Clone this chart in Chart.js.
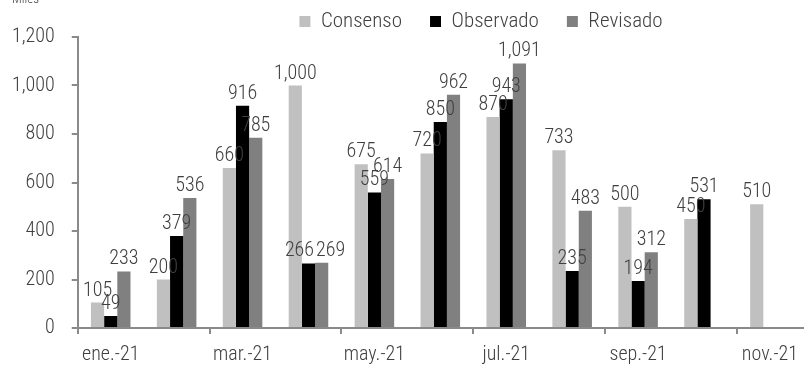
<!DOCTYPE html>
<html>
<head>
<meta charset="utf-8">
<script src="https://cdn.jsdelivr.net/npm/chart.js@4/dist/chart.umd.min.js"></script>
<style>
  html, body { margin: 0; padding: 0; background: #fff; }
  #wrap { width: 807px; height: 366px; position: relative; }
</style>
</head>
<body>
<div id="wrap"><canvas id="chart"></canvas></div>
<script>
// meses 2021
var meses = ["ene.-21", "feb.-21", "mar.-21", "abr.-21", "may.-21", "jun.-21",
             "jul.-21", "ago.-21", "sep.-21", "oct.-21", "nov.-21"];
var consenso  = [105, 200, 660, 1000, 675, 720, 870, 733, 500, 450, 510];
var observado = [49, 379, 916, 266, 559, 850, 943, 235, 194, 531, null];
var revisado  = [233, 536, 785, 269, 614, 962, 1091, 483, 312, null, null];
var yTicks = [0, 200, 400, 600, 800, 1000, 1200];

var FONT = "'Roboto Condensed', Roboto, sans-serif";
var TEXT = '#404040';
var AXIS = '#8a8a8a';

function fmt(v) { return v.toLocaleString('en-US'); }

// etiquetas de valor encima de cada barra; si dos se pisan dentro
// del mismo mes se separan un poco hacia los lados
var valueLabels = {
  id: 'valueLabels',
  afterDatasetsDraw: function(chart) {
    var ctx = chart.ctx;
    var alto = 14;
    ctx.save();
    ctx.font = '300 20px ' + FONT;
    ctx.textAlign = 'center';
    ctx.textBaseline = 'alphabetic';
    ctx.fillStyle = TEXT;
    meses.forEach(function(m, j) {
      var grupo = [];
      chart.data.datasets.forEach(function(ds, i) {
        var v = ds.data[j];
        if (v == null) return;
        var bar = chart.getDatasetMeta(i).data[j];
        var t = fmt(v);
        grupo.push({ t: t, x: bar.x, y: bar.y - 7, w: ctx.measureText(t).width });
      });
      for (var k = 0; k < grupo.length - 1; k++) {
        var a = grupo[k], b = grupo[k + 1];
        var dx = (a.x + a.w / 2) - (b.x - b.w / 2);
        var dy = alto - Math.abs(a.y - b.y);
        if (dx > 0 && dy > 3) {
          a.x -= dx / 2 + 1;
          b.x += dx / 2 + 1;
        }
      }
      grupo.forEach(function(e) { ctx.fillText(e.t, e.x, e.y); });
    });
    ctx.restore();
  }
};

// unidad arriba a la izquierda
var unidad = {
  id: 'unidad',
  afterDraw: function(chart) {
    var ctx = chart.ctx;
    ctx.save();
    ctx.font = '300 13px ' + FONT;
    ctx.fillStyle = TEXT;
    ctx.textBaseline = 'alphabetic';
    ctx.fillText('Miles', 12, 3);
    ctx.restore();
  }
};

// la leyenda va un poco más arriba y a la derecha
var legendShift = {
  id: 'legendShift',
  afterLayout: function(chart) {
    var lg = chart.legend;
    lg.left += 72;
    lg.right += 72;
    lg.top = -17;
  }
};

function dibujar() {
  new Chart('chart', {
    type: 'bar',
    data: {
      labels: meses,
      datasets: [
        { label: 'Consenso', data: consenso, backgroundColor: '#c0c0c0' },
        { label: 'Observado', data: observado, backgroundColor: '#000000' },
        { label: 'Revisado', data: revisado, backgroundColor: '#808080' }
      ]
    },
    options: {
      responsive: true,
      maintainAspectRatio: false,
      animation: false,
      datasets: { bar: { categoryPercentage: 0.6, barPercentage: 1.0 } },
      layout: { padding: { left: -5, right: -16, top: 0, bottom: -10 } },
      plugins: {
        legend: {
          position: 'top',
          maxHeight: 37,
          labels: {
            font: { family: FONT, size: 21, weight: '300' },
            color: TEXT,
            boxWidth: 11,
            boxHeight: 11,
            padding: 28
          }
        },
        tooltip: { enabled: false }
      },
      scales: {
        x: {
          grid: {
            offset: true,
            drawOnChartArea: false,
            tickLength: 6,
            color: function(c) { return c.index % 2 === 0 ? AXIS : 'rgba(0,0,0,0)'; },
            lineWidth: 2
          },
          border: { color: AXIS, width: 2 },
          ticks: {
            autoSkip: false,
            maxRotation: 0,
            padding: 9,
            color: TEXT,
            font: { family: FONT, size: 20, weight: '300' },
            callback: function(v, i) { return i % 2 === 0 ? meses[i] : ''; }
          }
        },
        y: {
          min: 0,
          max: 1200,
          afterBuildTicks: function(s) { s.ticks = yTicks.map(function(v) { return { value: v }; }); },
          grid: { drawOnChartArea: false, tickLength: 6, color: AXIS, lineWidth: 2 },
          border: { color: AXIS, width: 2 },
          ticks: {
            padding: 17,
            color: TEXT,
            font: { family: FONT, size: 20, weight: '300' },
            callback: function(v) { return fmt(v); }
          }
        }
      }
    },
    plugins: [valueLabels, unidad, legendShift]
  });
}

// esperar la fuente antes de medir los textos
Promise.all([
  document.fonts.load("300 20px 'Roboto Condensed'"),
  document.fonts.load("300 21px 'Roboto Condensed'")
]).then(dibujar, dibujar);
</script>
</body>
</html>
